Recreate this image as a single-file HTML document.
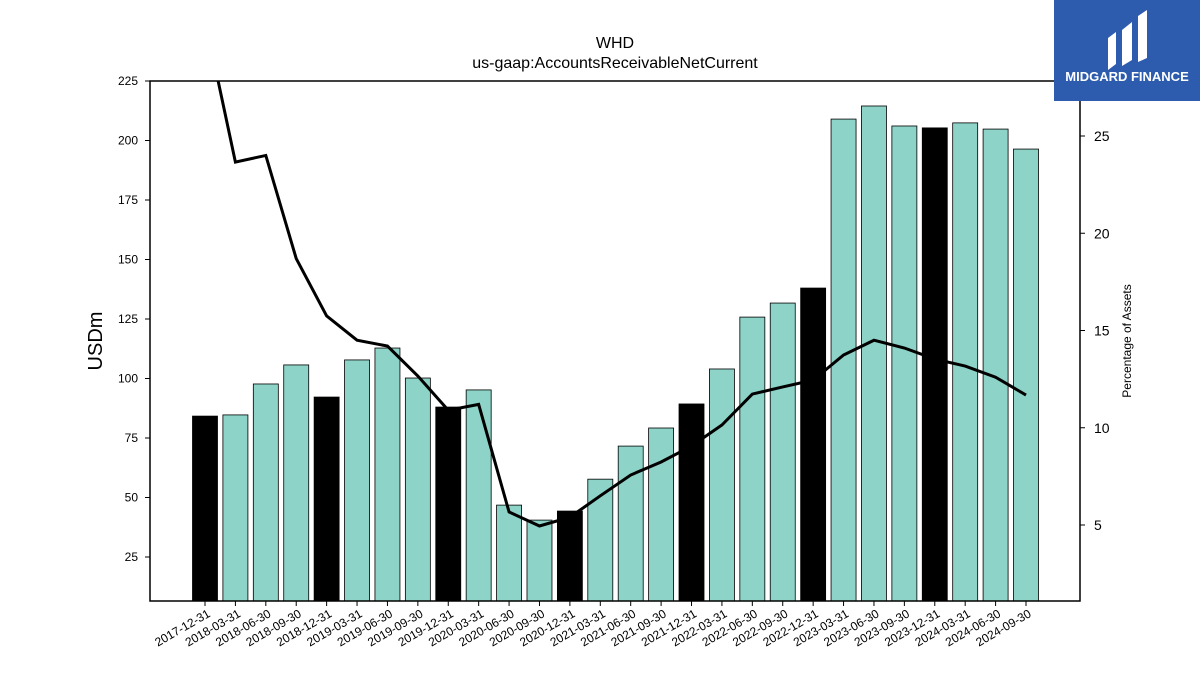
<!DOCTYPE html>
<html><head><meta charset="utf-8"><style>
body{margin:0;background:#fff;}
svg{display:block;font-family:"Liberation Sans","DejaVu Sans",sans-serif;}
</style></head><body>
<svg id="c" width="1200" height="675" xmlns="http://www.w3.org/2000/svg">
<rect width="1200" height="675" fill="#fff"/>
<text x="615" y="48" text-anchor="middle" font-size="16">WHD</text>
<text x="615" y="68" text-anchor="middle" font-size="16">us-gaap:AccountsReceivableNetCurrent</text>
<text transform="translate(102,341) rotate(-90)" text-anchor="middle" font-size="20">USDm</text>
<text transform="translate(1131,341) rotate(-90)" text-anchor="middle" font-size="12">Percentage of Assets</text>
<g id="bars"></g><g id="line"></g><g id="axes"></g>
<g>
<rect x="1054" y="0" width="146" height="101" fill="#2d5caf"/>
<path d="M1108 70 V38 L1116 32 V64 Z M1122 66 V30 L1132 22 V60 Z M1138 62 V16 L1147 10 V58 Z" fill="#fff"/>
<text x="1127" y="81" text-anchor="middle" font-size="13" font-weight="bold" fill="#fff">MIDGARD FINANCE</text>
</g>
</svg>
<script>
const categories=["2017-12-31","2018-03-31","2018-06-30","2018-09-30","2018-12-31","2019-03-31","2019-06-30","2019-09-30","2019-12-31","2020-03-31","2020-06-30","2020-09-30","2020-12-31","2021-03-31","2021-06-30","2021-09-30","2021-12-31","2022-03-31","2022-06-30","2022-09-30","2022-12-31","2023-03-31","2023-06-30","2023-09-30","2023-12-31","2024-03-31","2024-06-30","2024-09-30"];
const receivables=[84.2,84.7,97.7,105.7,92.2,107.8,112.8,100.2,88,95.2,46.8,40.5,44.3,57.7,71.6,79.2,89.3,104,125.8,131.7,138,209,214.5,206.1,205.3,207.4,204.8,196.4];
const pctAssets=[31,23.66,24.0,18.7,15.75,14.5,14.2,12.66,10.9,11.2,5.67,4.95,5.4,6.5,7.57,8.24,9.06,10.14,11.73,12.1,12.45,13.74,14.5,14.1,13.53,13.17,12.6,11.68];
const leftTicks=[25,50,75,100,125,150,175,200,225];
const rightTicks=[5,10,15,20,25];
const NS="http://www.w3.org/2000/svg";
const L=150,R=1080,T=81,B=601;
const yL=v=>T+(225-v)*2.38;
const yR=v=>136+(25-v)*19.45;
const xC=i=>205+i*(1026-205)/(categories.length-1);
function mk(t,a,p){const e=document.createElementNS(NS,t);for(const k in a)e.setAttribute(k,a[k]);p.appendChild(e);return e;}
const bars=document.getElementById('bars'),line=document.getElementById('line'),axes=document.getElementById('axes');
mk('clipPath',{id:'clip'},document.getElementById('c'));
mk('rect',{x:L,y:T,width:R-L,height:B-T},document.getElementById('clip'));
receivables.forEach((v,i)=>{
 const dec=categories[i].endsWith('12-31');
 const r=mk('rect',{x:xC(i)-12.5,y:yL(v),width:25,height:B-yL(v),fill:dec?'#000':'#8dd3c7',stroke:'#000','stroke-width':0.8},bars);
 
 
 const t=mk('line',{x1:xC(i),x2:xC(i),y1:B,y2:B+5,stroke:'#000'},axes);
 const lb=mk('text',{transform:`translate(${xC(i)+6},${B+15}) rotate(-30)`,'text-anchor':'end','font-size':12},axes);
 lb.textContent=categories[i];
 
 
});
const pl=mk('polyline',{points:pctAssets.map((v,i)=>xC(i)+','+yR(v)).join(' '),fill:'none',stroke:'#000','stroke-width':3,'clip-path':'url(#clip)'},line);


const fr=mk('rect',{x:L,y:T,width:R-L,height:B-T,fill:'none',stroke:'#000','stroke-width':1.5},axes);


leftTicks.forEach(v=>{
 mk('line',{x1:L-5,x2:L,y1:yL(v),y2:yL(v),stroke:'#000'},axes);
 const t=mk('text',{x:L-12,y:yL(v)+4,'text-anchor':'end','font-size':12},axes);
 t.textContent=v;
 
 
});
rightTicks.forEach(v=>{
 mk('line',{x1:R,x2:R+5,y1:yR(v),y2:yR(v),stroke:'#000'},axes);
 const t=mk('text',{x:R+14,y:yR(v)+5,'font-size':14},axes);
 t.textContent=v;
 
 
});
</script>
</body></html>
